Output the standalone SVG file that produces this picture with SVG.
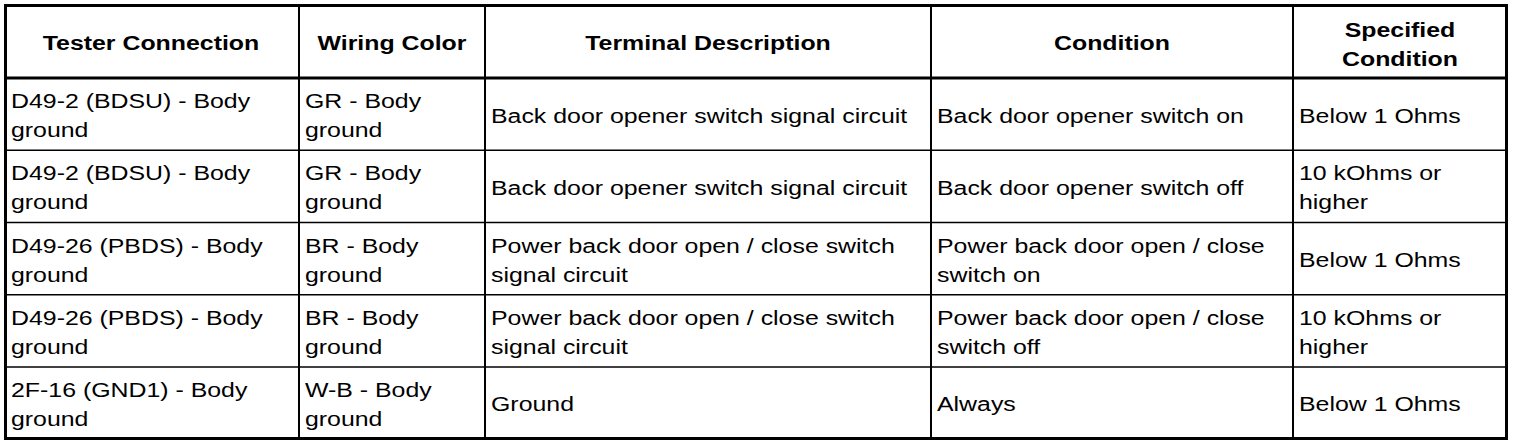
<svg xmlns="http://www.w3.org/2000/svg" width="1520" height="448" viewBox="0 0 1520 448">
<style>
.t{font-family:"Liberation Sans",Arial,sans-serif;font-size:21px;fill:#000}
.h{font-family:"Liberation Sans",Arial,sans-serif;font-size:21px;font-weight:bold;fill:#000;text-anchor:middle}
.b{fill:none;stroke:#000;stroke-width:3}
.v{stroke:#000;stroke-width:2}
.r{stroke:#000;stroke-width:1.5}
</style>
<rect width="1520" height="448" fill="#fff"/>
<g id="grid">
<rect class="b" x="5.5" y="5.5" width="1501" height="433"/>
<line class="b" x1="5.5" y1="78" x2="1506.5" y2="78"/>
<line class="r" x1="5.5" y1="150.25" x2="1506.5" y2="150.25"/>
<line class="r" x1="5.5" y1="222.5" x2="1506.5" y2="222.5"/>
<line class="r" x1="5.5" y1="294.75" x2="1506.5" y2="294.75"/>
<line class="r" x1="5.5" y1="367" x2="1506.5" y2="367"/>
<line class="v" x1="299" y1="5.5" x2="299" y2="438.5"/>
<line class="v" x1="485" y1="5.5" x2="485" y2="438.5"/>
<line class="v" x1="931" y1="5.5" x2="931" y2="438.5"/>
<line class="v" x1="1293" y1="5.5" x2="1293" y2="438.5"/>
</g>
<g transform="scale(1.185,1)">
<g id="header">
<text class="h" x="127.43" y="50.5">Tester Connection</text>
<text class="h" x="330.8" y="50.5">Wiring Color</text>
<text class="h" x="597.47" y="50.5">Terminal Description</text>
<text class="h" x="938.4" y="50.5">Condition</text>
<text class="h" x="1181.43" y="37">Specified</text>
<text class="h" x="1181.43" y="66">Condition</text>
</g>
<g id="row1">
<text class="t" x="9.28" y="108">D49-2 (BDSU) - Body</text>
<text class="t" x="9.28" y="137">ground</text>
<text class="t" x="257.38" y="108">GR - Body</text>
<text class="t" x="257.38" y="137">ground</text>
<text class="t" x="414.35" y="123">Back door opener switch signal circuit</text>
<text class="t" x="790.72" y="123">Back door opener switch on</text>
<text class="t" x="1096.2" y="123">Below 1 Ohms</text>
</g>
<g id="row2">
<text class="t" x="9.28" y="180.4">D49-2 (BDSU) - Body</text>
<text class="t" x="9.28" y="209.4">ground</text>
<text class="t" x="257.38" y="180.4">GR - Body</text>
<text class="t" x="257.38" y="209.4">ground</text>
<text class="t" x="414.35" y="195.4">Back door opener switch signal circuit</text>
<text class="t" x="790.72" y="195.4">Back door opener switch off</text>
<text class="t" x="1096.2" y="180.4">10 kOhms or</text>
<text class="t" x="1096.2" y="209.4">higher</text>
</g>
<g id="row3">
<text class="t" x="9.28" y="252.6">D49-26 (PBDS) - Body</text>
<text class="t" x="9.28" y="281.6">ground</text>
<text class="t" x="257.38" y="252.6">BR - Body</text>
<text class="t" x="257.38" y="281.6">ground</text>
<text class="t" x="414.35" y="252.6">Power back door open / close switch</text>
<text class="t" x="414.35" y="281.6">signal circuit</text>
<text class="t" x="790.72" y="252.6">Power back door open / close</text>
<text class="t" x="790.72" y="281.6">switch on</text>
<text class="t" x="1096.2" y="267.5">Below 1 Ohms</text>
</g>
<g id="row4">
<text class="t" x="9.28" y="324.9">D49-26 (PBDS) - Body</text>
<text class="t" x="9.28" y="353.9">ground</text>
<text class="t" x="257.38" y="324.9">BR - Body</text>
<text class="t" x="257.38" y="353.9">ground</text>
<text class="t" x="414.35" y="324.9">Power back door open / close switch</text>
<text class="t" x="414.35" y="353.9">signal circuit</text>
<text class="t" x="790.72" y="324.9">Power back door open / close</text>
<text class="t" x="790.72" y="353.9">switch off</text>
<text class="t" x="1096.2" y="324.9">10 kOhms or</text>
<text class="t" x="1096.2" y="353.9">higher</text>
</g>
<g id="row5">
<text class="t" x="9.28" y="396.75">2F-16 (GND1) - Body</text>
<text class="t" x="9.28" y="425.75">ground</text>
<text class="t" x="257.38" y="396.75">W-B - Body</text>
<text class="t" x="257.38" y="425.75">ground</text>
<text class="t" x="414.35" y="411.5">Ground</text>
<text class="t" x="790.72" y="411.5">Always</text>
<text class="t" x="1096.2" y="411.5">Below 1 Ohms</text>
</g>
</g>
</svg>
